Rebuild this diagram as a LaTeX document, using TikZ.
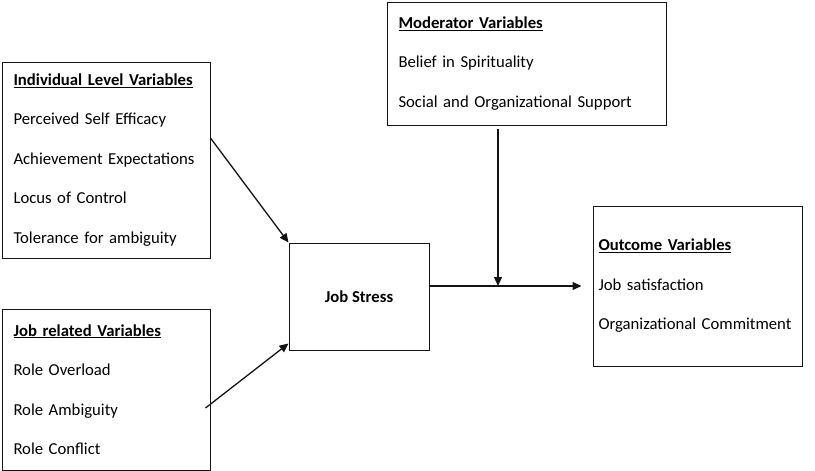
\documentclass[tikz,border=0pt]{standalone}
\usepackage{fontspec}
\setmainfont{Carlito}
\usepackage{tikz}
\usetikzlibrary{arrows.meta}
\definecolor{boxblack}{RGB}{20,20,20}

\tikzset{
  varbox/.style={draw=boxblack, line width=1pt, align=left, anchor=center,
    font={\fontsize{16.7}{39.5}\selectfont\hyphenpenalty=10000}, inner ysep=0pt},
  linkarrow/.style={boxblack, line width=1.3pt, -{Triangle[length=9pt,width=8pt]}}
}

\begin{document}
\begin{tikzpicture}[x=1pt, y=-1pt]
  \useasboundingbox (0,0) rectangle (815,471);

  % Individual level box
  \node[varbox, minimum width=208, minimum height=196, %
      text width=185, inner xsep=11] (indiv) at (106,160) %
    {\underline{\textbf{Individual Level Variables}}\\ Perceived Self Efficacy\\ %
     Achievement Expectations\\ Locus of Control\\ Tolerance for ambiguity};

  % Job related box
  \node[varbox, minimum width=208, minimum height=161, %
      text width=185, inner xsep=11] (jobrel) at (106,389.5) %
    {\underline{\textbf{Job related Variables}}\\ Role Overload\\ %
     Role Ambiguity\\ Role Conflict};

  % Job stress box
  \node[varbox, minimum width=140, minimum height=107, align=center] %
    (stress) at (359,296.5) {\textbf{Job Stress}};

  % Moderator box
  \node[varbox, minimum width=279, minimum height=123, %
      text width=256, inner xsep=11] (mod) at (526.5,63.5) %
    {\underline{\textbf{Moderator Variables}}\\ Belief in Spirituality\\ %
     Social and Organizational Support};

  % Outcome box
  \node[varbox, minimum width=209, minimum height=160, %
      text width=198, inner xsep=5.5] (outcome) at (697.5,286) %
    {\underline{\textbf{Outcome Variables}}\\ Job satisfaction\\ %
     Organizational Commitment};

  % Arrows into job stress
  \draw[linkarrow] ([yshift=22]indiv.east) -- (stress.north west);
  \draw[linkarrow] ([xshift=-5,yshift=-18.5]jobrel.east) -- %
    ([yshift=7]stress.south west);

  % Job stress to outcome
  \draw[linkarrow, shorten >=11pt] (stress.east |- outcome.west) -- (outcome.west);

  % Moderator arrow onto the link
  \coordinate (join) at ([xshift=-28.5]mod.south |- outcome.west);
  \draw[linkarrow] ([xshift=-28.5,yshift=-3]mod.south) -- (join);
\end{tikzpicture}
\end{document}
